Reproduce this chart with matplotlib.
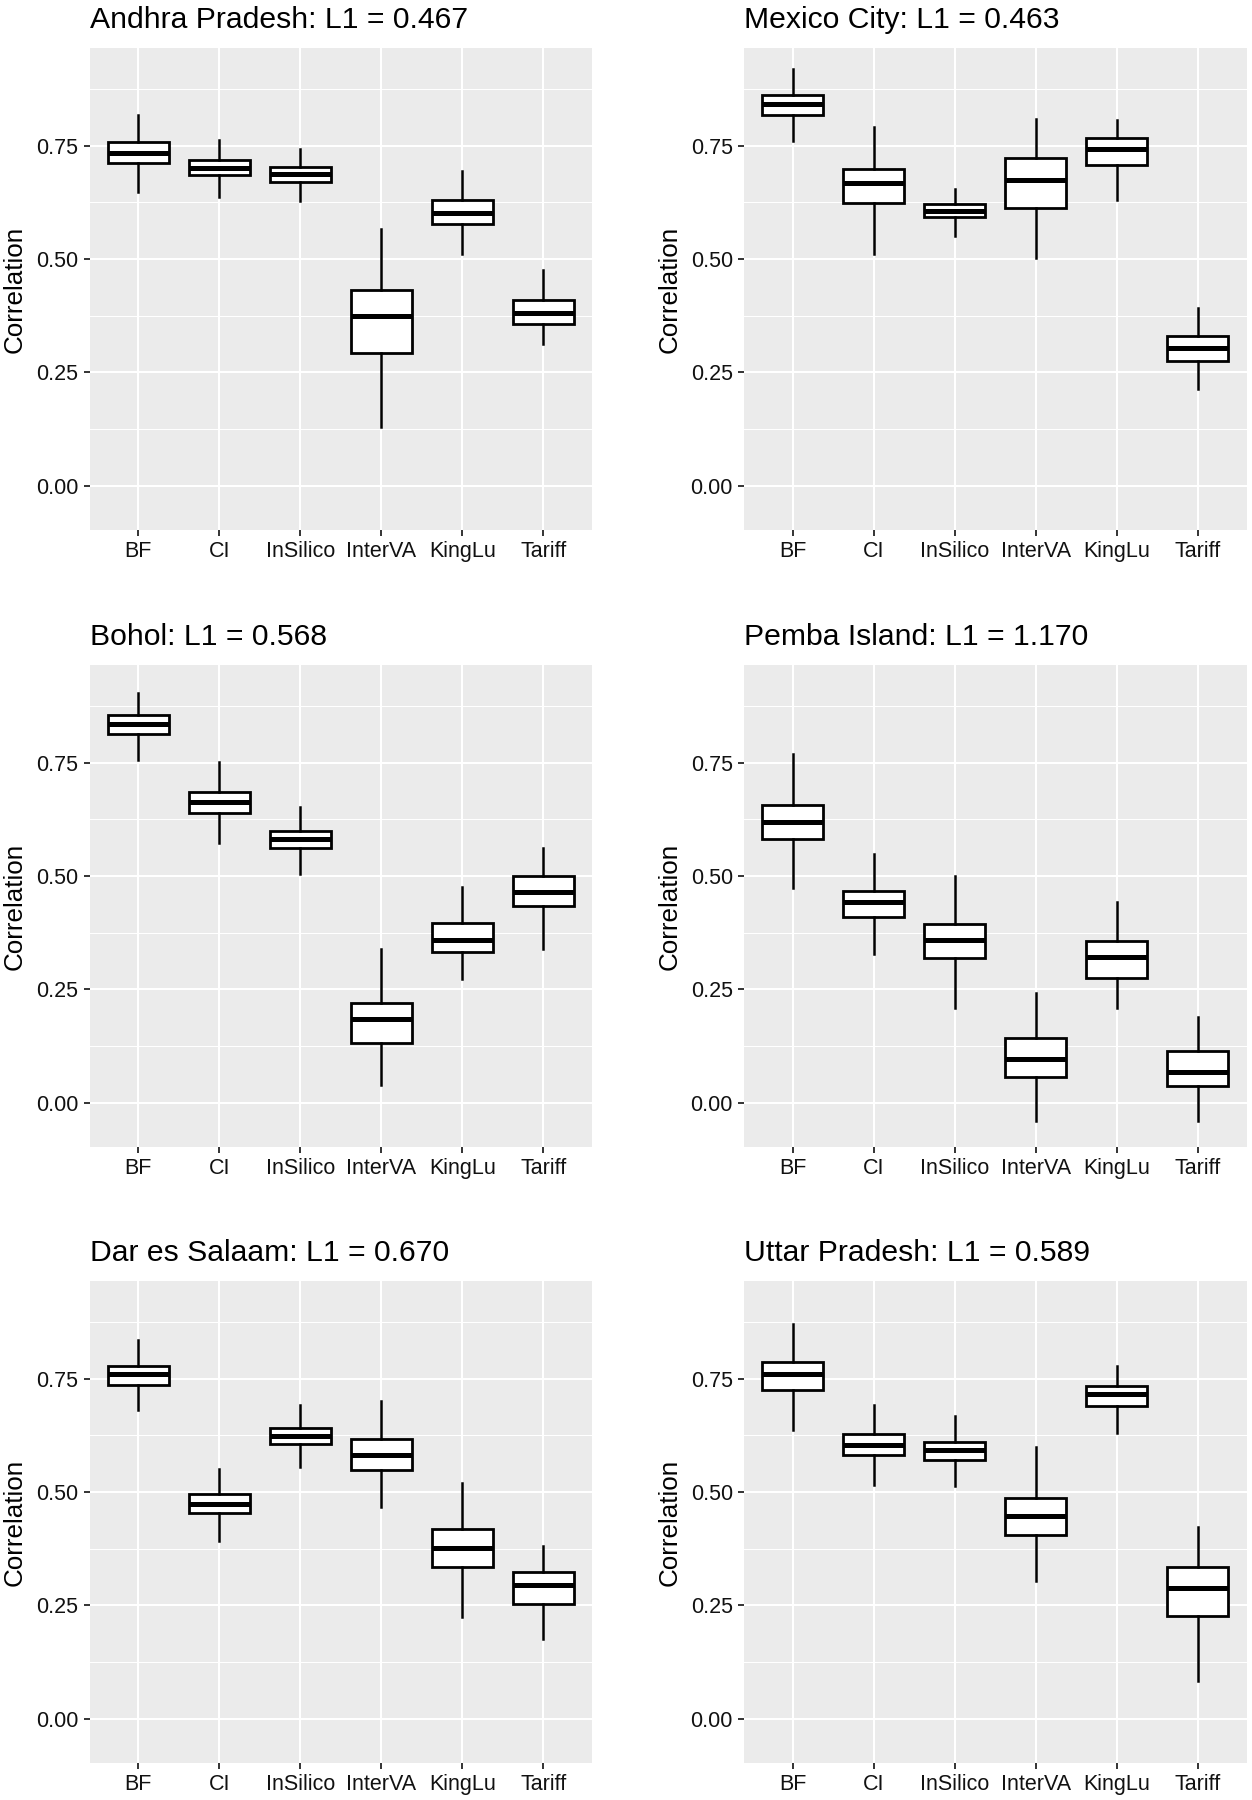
import matplotlib
matplotlib.use("Agg")
import matplotlib.pyplot as plt
from matplotlib.ticker import MultipleLocator

plt.rcParams['font.family'] = ['Liberation Sans', 'DejaVu Sans']

methods = ["BF", "CI", "InSilico", "InterVA", "KingLu", "Tariff"]
sites = ["Andhra Pradesh", "Mexico City", "Bohol", "Pemba Island",
         "Dar es Salaam", "Uttar Pradesh"]
l1_values = [0.467, 0.463, 0.568, 1.170, 0.670, 0.589]

# one row per site, one column per method
whisker_low = [
    [0.648, 0.638, 0.629, 0.130, 0.512, 0.312],
    [0.761, 0.511, 0.552, 0.503, 0.631, 0.213],
    [0.756, 0.573, 0.504, 0.039, 0.273, 0.338],
    [0.473, 0.328, 0.208, -0.041, 0.209, -0.041],
    [0.682, 0.391, 0.556, 0.467, 0.224, 0.175],
    [0.637, 0.516, 0.513, 0.304, 0.630, 0.084],
]
quart_1 = [
    [0.712, 0.685, 0.671, 0.293, 0.577, 0.357],
    [0.819, 0.623, 0.593, 0.613, 0.707, 0.275],
    [0.814, 0.639, 0.562, 0.132, 0.332, 0.433],
    [0.583, 0.409, 0.319, 0.057, 0.276, 0.037],
    [0.737, 0.453, 0.606, 0.549, 0.335, 0.253],
    [0.725, 0.582, 0.570, 0.406, 0.690, 0.226],
]
medians = [
    [0.734, 0.701, 0.687, 0.375, 0.601, 0.382],
    [0.843, 0.668, 0.607, 0.674, 0.743, 0.303],
    [0.836, 0.664, 0.582, 0.185, 0.360, 0.465],
    [0.620, 0.442, 0.358, 0.096, 0.321, 0.067],
    [0.760, 0.473, 0.623, 0.582, 0.376, 0.296],
    [0.761, 0.605, 0.594, 0.447, 0.716, 0.289],
]
quart_3 = [
    [0.759, 0.719, 0.703, 0.431, 0.631, 0.409],
    [0.863, 0.700, 0.621, 0.723, 0.767, 0.331],
    [0.855, 0.685, 0.600, 0.220, 0.396, 0.501],
    [0.658, 0.468, 0.394, 0.143, 0.357, 0.113],
    [0.778, 0.495, 0.642, 0.618, 0.418, 0.323],
    [0.787, 0.628, 0.611, 0.488, 0.735, 0.335],
]
whisker_high = [
    [0.817, 0.762, 0.744, 0.567, 0.694, 0.476],
    [0.920, 0.792, 0.654, 0.810, 0.808, 0.391],
    [0.905, 0.752, 0.652, 0.340, 0.475, 0.561],
    [0.769, 0.549, 0.500, 0.243, 0.443, 0.190],
    [0.835, 0.550, 0.693, 0.701, 0.521, 0.382],
    [0.870, 0.693, 0.669, 0.599, 0.778, 0.422],
]

W, H = 1252, 1800
fig = plt.figure(figsize=(W / 100, H / 100), dpi=100)

col_x = [89.5, 744.0]
row_bottom = [530, 1147, 1763]
panel_w, panel_h = 502.5, 482

for k, site in enumerate(sites):
    r, c = divmod(k, 2)
    ax = fig.add_axes([col_x[c] / W, 1 - row_bottom[r] / H,
                       panel_w / W, panel_h / H])
    ax.set_facecolor("#EBEBEB")
    for s in ax.spines.values():
        s.set_visible(False)

    stats = []
    for j, m in enumerate(methods):
        stats.append(dict(label=m, whislo=whisker_low[k][j], q1=quart_1[k][j],
                          med=medians[k][j], q3=quart_3[k][j],
                          whishi=whisker_high[k][j], fliers=[]))
    ax.bxp(stats, positions=range(1, 7), widths=0.75, showcaps=False,
           patch_artist=True,
           boxprops=dict(facecolor="white", edgecolor="black", linewidth=2.0),
           medianprops=dict(color="black", linewidth=3.6,
                            solid_capstyle="butt"),
           whiskerprops=dict(color="black", linewidth=1.8),
           zorder=3)

    ax.set_xlim(0.4, 6.6)
    ax.set_ylim(-0.098, 0.966)
    ax.set_xticks(range(1, 7))
    ax.set_xticklabels(methods)
    ax.yaxis.set_minor_locator(MultipleLocator(0.125))
    ax.set_yticks([0, 0.25, 0.5, 0.75])
    ax.set_yticklabels(["0.00", "0.25", "0.50", "0.75"])
    ax.grid(which="major", color="white", linewidth=1.5)
    ax.grid(which="minor", axis="y", color="white", linewidth=0.75)
    ax.set_axisbelow(True)
    ax.tick_params(axis="both", which="major", length=4, width=1.4,
                   color="#333333", labelsize=15.5, labelcolor="#111111", pad=4)
    ax.tick_params(axis="y", which="minor", length=0)

    ax.set_ylabel("Correlation", fontsize=18.7, color="black")
    ax.yaxis.set_label_coords(-0.125, 0.5)
    ax.set_title(f"{site}: L1 = {l1_values[k]:.3f}", loc="left",
                 fontsize=21.7, pad=14.5, color="black")

fig.savefig("out.png", dpi=100)
